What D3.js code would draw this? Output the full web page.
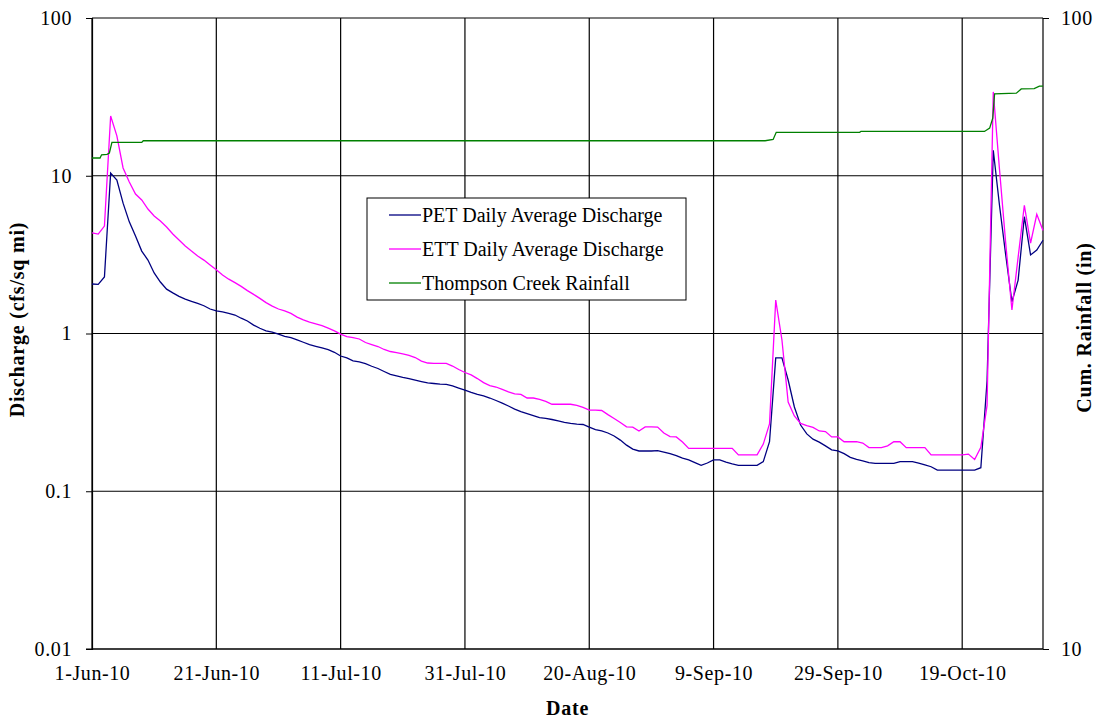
<!DOCTYPE html>
<html>
<head>
<meta charset="utf-8">
<script src="https://cdn.jsdelivr.net/npm/d3@7"></script>
<style>
  html, body { margin: 0; padding: 0; background: #fff; }
  svg { display: block; }
  text { font-family: "Liberation Serif", "Times New Roman", serif; fill: #000; }
</style>
</head>
<body>
<svg id="chart" width="1102" height="721"></svg>
<script>
// Daily average discharge, 1-Jun-2010 through 1-Nov-2010 (cfs per square mile)
const startDate = "2010-06-01";
const endDate = "2010-11-01";

const petDischarge = [
  2.06, 2.05, 2.28, 10.4, 9.4, 6.7, 5.1, 4.15, 3.33, 2.92,
  2.42, 2.12, 1.91, 1.81, 1.72, 1.65, 1.60, 1.55, 1.50, 1.43,
  1.39, 1.37, 1.34, 1.31, 1.25, 1.20, 1.13, 1.08, 1.04, 1.02,
  0.99, 0.96, 0.94, 0.91, 0.88, 0.85, 0.83, 0.81, 0.79, 0.76,
  0.72, 0.70, 0.67, 0.66, 0.645, 0.62, 0.60, 0.574, 0.55, 0.538,
  0.527, 0.518, 0.507, 0.496, 0.486, 0.482, 0.478, 0.476, 0.465, 0.451,
  0.438, 0.423, 0.411, 0.402, 0.390, 0.376, 0.362, 0.347, 0.332, 0.320,
  0.311, 0.302, 0.293, 0.290, 0.285, 0.279, 0.273, 0.269, 0.266, 0.265,
  0.255, 0.246, 0.241, 0.234, 0.224, 0.211, 0.196, 0.185, 0.180, 0.180,
  0.180, 0.181, 0.177, 0.173, 0.168, 0.162, 0.158, 0.152, 0.146, 0.151,
  0.158, 0.158, 0.153, 0.149, 0.146, 0.146, 0.146, 0.146, 0.154, 0.206,
  0.70, 0.70, 0.507, 0.342, 0.263, 0.231, 0.214, 0.205, 0.194, 0.183,
  0.180, 0.173, 0.164, 0.159, 0.156, 0.152, 0.150, 0.150, 0.150, 0.150,
  0.154, 0.154, 0.154, 0.151, 0.147, 0.143, 0.136, 0.136, 0.136, 0.136,
  0.136, 0.136, 0.136, 0.141, 0.50, 14.5, 6.5, 3.15, 1.59, 2.18,
  5.5, 3.15, 3.38, 3.9
];

const ettDischarge = [
  4.34, 4.27, 4.80, 23.9, 17.9, 11.2, 9.13, 7.66, 7.02, 6.15,
  5.56, 5.17, 4.73, 4.27, 3.92, 3.59, 3.33, 3.10, 2.92, 2.72,
  2.54, 2.35, 2.21, 2.10, 1.99, 1.87, 1.77, 1.67, 1.57, 1.49,
  1.43, 1.39, 1.34, 1.27, 1.22, 1.18, 1.15, 1.12, 1.08, 1.04,
  0.99, 0.954, 0.943, 0.923, 0.877, 0.851, 0.827, 0.792, 0.769, 0.756,
  0.742, 0.726, 0.704, 0.669, 0.650, 0.647, 0.647, 0.647, 0.622, 0.591,
  0.566, 0.546, 0.518, 0.488, 0.468, 0.458, 0.442, 0.426, 0.414, 0.411,
  0.390, 0.390, 0.382, 0.371, 0.356, 0.356, 0.356, 0.356, 0.350, 0.340,
  0.327, 0.327, 0.325, 0.306, 0.289, 0.273, 0.256, 0.255, 0.241, 0.256,
  0.256, 0.255, 0.234, 0.222, 0.221, 0.205, 0.187, 0.187, 0.187, 0.187,
  0.187, 0.187, 0.187, 0.187, 0.170, 0.170, 0.170, 0.170, 0.199, 0.267,
  1.63, 0.91, 0.368, 0.300, 0.269, 0.261, 0.254, 0.241, 0.239, 0.221,
  0.221, 0.206, 0.206, 0.206, 0.202, 0.189, 0.189, 0.189, 0.194, 0.206,
  0.206, 0.189, 0.189, 0.189, 0.189, 0.170, 0.170, 0.170, 0.170, 0.170,
  0.170, 0.172, 0.159, 0.190, 0.35, 34.0, 11.0, 3.74, 1.41, 3.05,
  6.5, 3.74, 5.7, 4.5
];

// Cumulative rainfall gauge readings (inches)
const rainTimes = [
  "2010-06-01T00:00", "2010-06-02T07:00", "2010-06-02T13:00", "2010-06-03T10:00",
  "2010-06-03T19:00", "2010-06-04T05:00", "2010-06-09T00:00", "2010-06-09T06:00",
  "2010-09-17T07:00", "2010-09-18T14:00", "2010-09-19T02:00", "2010-10-02T12:00",
  "2010-10-02T17:00", "2010-10-22T14:00", "2010-10-23T10:00", "2010-10-23T22:00",
  "2010-10-24T05:00", "2010-10-27T17:00", "2010-10-28T12:00", "2010-10-30T14:00",
  "2010-10-31T10:00", "2010-11-01T00:00"
];
const rainTotals = [
  60.0, 60.0, 60.7, 60.8,
  61.1, 63.5, 63.5, 63.9,
  63.9, 64.2, 65.9, 65.9,
  66.1, 66.1, 66.9, 69.4,
  75.8, 76.0, 77.2, 77.3,
  78.0, 78.0
];

const dischargeTicks = [0.01, 0.1, 1, 10, 100];
const dischargeTickLabels = ["0.01", "0.1", "1", "10", "100"];
const rainTicks = [10, 100];
const rainTickLabels = ["10", "100"];
const dateTicks = ["2010-06-01", "2010-06-21", "2010-07-11", "2010-07-31",
                   "2010-08-20", "2010-09-09", "2010-09-29", "2010-10-19"];
const dateTickLabels = ["1-Jun-10", "21-Jun-10", "11-Jul-10", "31-Jul-10",
                        "20-Aug-10", "9-Sep-10", "29-Sep-10", "19-Oct-10"];

const seriesNames = ["PET Daily Average Discharge", "ETT Daily Average Discharge", "Thompson Creek Rainfall"];
const seriesColors = ["#000080", "#FF00FF", "#008000"];

// ---- layout ----
const svg = d3.select("#chart");
const plot = { left: 92, right: 1043, top: 18, bottom: 649 };

const parseDay = d3.utcParse("%Y-%m-%d");
const parseTime = d3.utcParse("%Y-%m-%dT%H:%M");
const days = d3.utcDay.range(parseDay(startDate), d3.utcDay.offset(parseDay(endDate), 1));

const x = d3.scaleUtc()
  .domain([parseDay(startDate), parseDay(endDate)])
  .range([plot.left, plot.right]);
const yL = d3.scaleLog().domain([0.01, 100]).range([plot.bottom, plot.top]);
const yR = d3.scaleLog().domain([10, 100]).range([plot.bottom, plot.top]);

const fontSize = 20;
const tickSpacing = "0.6px";

// gridlines
const grid = svg.append("g");
grid.selectAll("line.h").data(dischargeTicks).join("line")
  .attr("x1", plot.left).attr("x2", plot.right)
  .attr("y1", d => yL(d)).attr("y2", d => yL(d))
  .attr("stroke", "#000").attr("stroke-width", 1.2);
grid.selectAll("line.v").data(dateTicks).join("line")
  .attr("x1", d => x(parseDay(d))).attr("x2", d => x(parseDay(d)))
  .attr("y1", plot.top).attr("y2", plot.bottom)
  .attr("stroke", "#000").attr("stroke-width", 1.2);
// right border
grid.append("line")
  .attr("x1", plot.right).attr("x2", plot.right)
  .attr("y1", plot.top).attr("y2", plot.bottom)
  .attr("stroke", "#000").attr("stroke-width", 1.2);

// left axis
const axisL = d3.axisLeft(yL).tickValues(dischargeTicks)
  .tickFormat((d, i) => dischargeTickLabels[i]).tickSize(6).tickPadding(14);
const gL = svg.append("g").attr("transform", `translate(${plot.left},0)`).call(axisL);
gL.select(".domain").attr("stroke", "#000").attr("stroke-width", 1.2);
gL.selectAll(".tick line").attr("stroke", "#000");
gL.selectAll(".tick text").attr("font-size", fontSize).attr("letter-spacing", tickSpacing)
  .attr("font-family", "Liberation Serif, serif");

// right axis
const axisR = d3.axisRight(yR).tickValues(rainTicks)
  .tickFormat((d, i) => rainTickLabels[i]).tickSize(6).tickPadding(12);
const gR = svg.append("g").attr("transform", `translate(${plot.right},0)`).call(axisR);
gR.select(".domain").remove();
gR.selectAll(".tick line").attr("stroke", "#000");
gR.selectAll(".tick text").attr("font-size", fontSize).attr("letter-spacing", tickSpacing)
  .attr("font-family", "Liberation Serif, serif");

// bottom axis (labels only, gridlines already drawn)
const axisB = d3.axisBottom(x).tickValues(dateTicks.map(parseDay))
  .tickFormat((d, i) => dateTickLabels[i]).tickSize(0).tickPadding(17);
const gB = svg.append("g").attr("transform", `translate(0,${plot.bottom})`).call(axisB);
gB.select(".domain").attr("stroke", "#000").attr("stroke-width", 1.2)
  .attr("d", `M${plot.left - 6},0H${plot.right}`);
gB.selectAll(".tick text").attr("font-size", fontSize).attr("letter-spacing", tickSpacing)
  .attr("font-family", "Liberation Serif, serif");

// axis titles
svg.append("text")
  .attr("transform", `translate(24,${(plot.top + plot.bottom) / 2 - 14}) rotate(-90)`)
  .attr("text-anchor", "middle").attr("font-weight", "bold").attr("font-size", 20)
  .attr("letter-spacing", "0.8px")
  .text("Discharge (cfs/sq mi)");
svg.append("text")
  .attr("transform", `translate(1091,${(plot.top + plot.bottom) / 2 - 6}) rotate(-90)`)
  .attr("text-anchor", "middle").attr("font-weight", "bold").attr("font-size", 20)
  .attr("letter-spacing", "0.8px")
  .text("Cum. Rainfall (in)");
svg.append("text")
  .attr("x", (plot.left + plot.right) / 2).attr("y", 715)
  .attr("text-anchor", "middle").attr("font-weight", "bold").attr("font-size", 20)
  .attr("letter-spacing", "0.8px")
  .text("Date");

// series
svg.append("clipPath").attr("id", "plotclip").append("rect")
  .attr("x", plot.left).attr("y", plot.top - 2)
  .attr("width", plot.right - plot.left + 1).attr("height", plot.bottom - plot.top + 2);

const lineL = d3.line().x((d, i) => x(days[i])).y(d => yL(d));
const lines = svg.append("g").attr("clip-path", "url(#plotclip)");
lines.append("path").datum(petDischarge)
  .attr("d", lineL).attr("fill", "none")
  .attr("stroke", seriesColors[0]).attr("stroke-width", 1.3);
lines.append("path").datum(ettDischarge)
  .attr("d", lineL).attr("fill", "none")
  .attr("stroke", seriesColors[1]).attr("stroke-width", 1.3);

const rain = rainTimes.map((t, i) => ({ t: parseTime(t), v: rainTotals[i] }));
lines.append("path").datum(rain)
  .attr("d", d3.line().x(d => x(d.t)).y(d => yR(d.v)))
  .attr("fill", "none").attr("stroke", seriesColors[2]).attr("stroke-width", 1.3);

// legend
const legend = svg.append("g").attr("transform", "translate(367,198)");
legend.append("rect").attr("x", 0).attr("y", 0).attr("width", 319).attr("height", 102)
  .attr("fill", "#fff").attr("stroke", "#000").attr("stroke-width", 1);
const rows = legend.selectAll("g.row").data(seriesNames).join("g")
  .attr("transform", (d, i) => `translate(0,${17 + i * 34})`);
rows.append("line").attr("x1", 22).attr("x2", 54).attr("y1", 0).attr("y2", 0)
  .attr("stroke", (d, i) => seriesColors[i]).attr("stroke-width", 1.3);
rows.append("text").attr("x", 55).attr("y", 0).attr("dy", "0.35em")
  .attr("font-size", fontSize).text(d => d);
</script>
</body>
</html>
